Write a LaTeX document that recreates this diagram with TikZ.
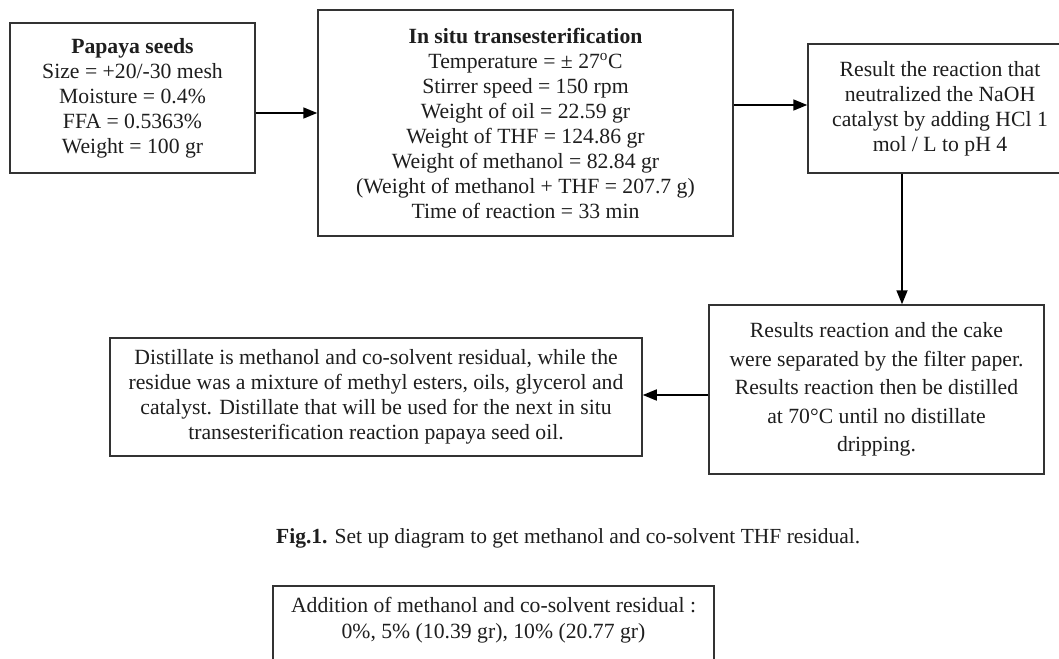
\documentclass[tikz,border=0pt]{standalone}
\usepackage{fontspec}
\setmainfont{Liberation Serif}
\usetikzlibrary{arrows.meta}
\definecolor{linec}{HTML}{333333}
\definecolor{txtc}{HTML}{1E1E1E}
\tikzset{
  box/.style={draw=linec, line width=1.5pt, inner sep=0pt, align=center, text=txtc,
    font=\fontsize{21.7}{25}\selectfont},
  arr/.style={draw=black, line width=1.7pt, -{Triangle[length=14pt,width=11pt]}},
  plain/.style={inner sep=0pt, align=center, text=txtc},
}
\begin{document}
\begin{tikzpicture}[x=1pt,y=-1pt]
\useasboundingbox (0,0) rectangle (1059,658);
\clip (0,0) rectangle (1059,658);
\fill[white] (0,0) rectangle (1059,658);

\node[box, minimum width=245pt, minimum height=150pt] (b1) at (132.5,98)
 {\textbf{Papaya seeds}\\Size = +20/-30 mesh\\Moisture = 0.4\%\\FFA = 0.5363\%\\Weight = 100 gr};

\node[box, minimum width=415pt, minimum height=226pt, text depth=0pt] (b2) at (525.5,123)
 {\textbf{In situ transesterification}\\Temperature = ± 27\textsuperscript{o}C\\Stirrer speed = 150 rpm\\Weight of oil = 22.59 gr\\Weight of THF = 124.86 gr\\Weight of methanol = 82.84 gr\\(Weight of methanol + THF = 207.7 g)\\Time of reaction = 33 min};

\node[box, minimum width=264pt, minimum height=129pt] (b3) at (940,108.5)
 {Result the reaction that\\neutralized the NaOH\\catalyst by adding HCl 1\\mol / L to pH 4};

\node[box, minimum width=335pt, minimum height=169pt, font=\fontsize{21.7}{28.5}\selectfont] (b4) at (876.5,389.5)
 {Results reaction and the cake\\were separated by the filter paper.\\Results reaction then be distilled\\at 70°C until no distillate\\dripping.};

\node[box, minimum width=532pt, minimum height=118pt] (b5) at (376,397)
 {Distillate is methanol and co-solvent residual, while the\\residue was a mixture of methyl esters, oils, glycerol and\\catalyst. Distillate that will be used for the next in situ\\transesterification reaction papaya seed oil.};

\node[plain, anchor=west, font=\fontsize{21.5}{25}\selectfont] (cap) at (276,538)
 {\textbf{Fig.1.} Set up diagram to get methanol and co-solvent THF residual.};

\node[box, minimum width=441pt, minimum height=120pt] (b6) at (493.5,646) {};
\node[plain, font=\fontsize{21.7}{26}\selectfont] (b6t) at (493.5,620)
 {Addition of methanol and co-solvent residual :\\0\%, 5\% (10.39 gr), 10\% (20.77 gr)};

\coordinate (a1) at (0,113);
\coordinate (a2) at (0,105);
\coordinate (a3) at (902,0);
\coordinate (a4) at (0,395);
\draw[arr] (b1.east |- a1) -- (b2.west |- a1);
\draw[arr] (b2.east |- a2) -- (b3.west |- a2);
\draw[arr] (b3.south -| a3) -- (b4.north -| a3);
\draw[arr] (b4.west |- a4) -- (b5.east |- a4);
\end{tikzpicture}
\end{document}
